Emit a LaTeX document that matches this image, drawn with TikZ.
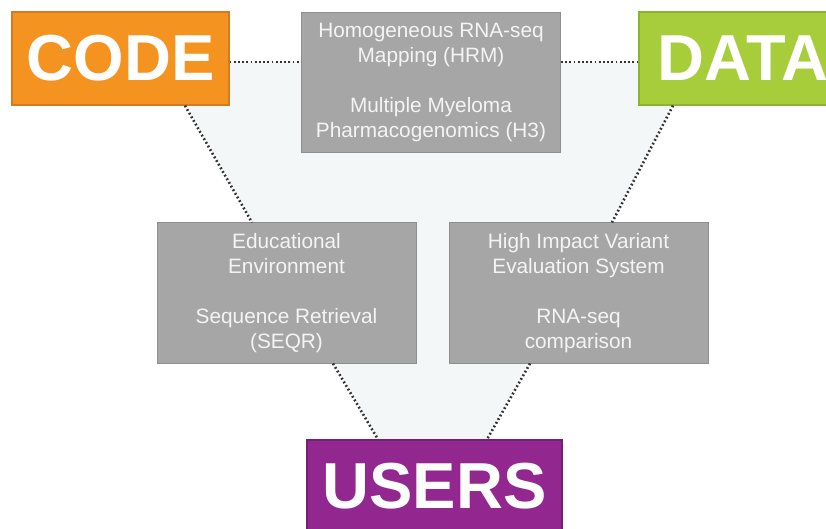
\documentclass[tikz,border=0pt]{standalone}
\usepackage{fontspec}
\setmainfont{Liberation Sans}
\usetikzlibrary{arrows}

\definecolor{codeorange}{HTML}{F4931F}
\definecolor{codeedge}{HTML}{D47A22}
\definecolor{datagreen}{HTML}{A7CD3A}
\definecolor{dataedge}{HTML}{8DB230}
\definecolor{userpurple}{HTML}{922790}
\definecolor{useredge}{HTML}{761F74}
\definecolor{projgray}{HTML}{A6A6A6}
\definecolor{projedge}{HTML}{8E8E8E}
\definecolor{projtext}{HTML}{F4F4F4}
\definecolor{dotcol}{HTML}{333333}
\definecolor{bgtint}{HTML}{F3F7F8}

\begin{document}
\begin{tikzpicture}[
            x = 1pt, % one unit is one pixel
            y = -1pt, % y runs downwards
            semithick % line style
        ]

        \tikzstyle{pillar}=[
            rectangle,
            line width = 1.2pt,
            text = white,
            inner sep = 0pt,
            minimum width = 217pt,
            minimum height = 93pt,
            font = \fontsize{65}{70}\selectfont\bfseries
        ]
        \tikzstyle{project}=[
            rectangle,
            draw = projedge,
            fill = projgray,
            line width = 1pt,
            text = projtext,
            align = center,
            inner sep = 0pt,
            minimum width = 259pt,
            minimum height = 140pt,
            font = \fontsize{20.8}{25}\selectfont
        ]
        \tikzstyle{link}=[
            draw = dotcol,
            line width = 2.6pt,
            dash pattern = on 1.8pt off 2.4pt
        ]

        \useasboundingbox (0,0) rectangle (826,529);
        \clip (0,0) rectangle (826,529);

        % light area between the dotted links
        \fill[bgtint] (229,62) -- (639,62) -- (639,105) -- (673,105) -- (612,222)
            -- (530,362) -- (487,440) -- (378,440) -- (333,362) -- (252,222)
            -- (185,105) -- (229,105) -- cycle;

        \node[pillar, fill = codeorange, draw = codeedge] (code) at (120.5,58.5) {CODE};
        \node[pillar, fill = datagreen, draw = dataedge, minimum width = 208pt] (data) at (743,58.5) {DATA};
        \node[pillar, fill = userpurple, draw = useredge, minimum width = 255pt] (users) at (434.5,486.5) {USERS};

        \node[project] (hrm) at (431,83) {Homogeneous RNA-seq\\Mapping (HRM)\\[25pt]Multiple Myeloma\\Pharmacogenomics (H3)};
        \node[project] (educ) at (286.5,293) {Educational\\Environment\\[25pt]Sequence Retrieval\\(SEQR)};
        \node[project] (hives) at (578.5,293) {High Impact Variant\\Evaluation System\\[25pt]RNA-seq\\comparison};

        \draw[link] ([yshift=-3.5pt]code.east) -- ([yshift=21pt]hrm.west);
        \draw[link] ([yshift=21pt]hrm.east) -- ([yshift=-3.5pt]data.west);
        \draw[link] ([xshift=64.5pt]code.south) -- ([xshift=-34.5pt]educ.north);
        \draw[link] ([xshift=-70pt]data.south) -- ([xshift=33.5pt]hives.north);
        \draw[link] ([xshift=46.5pt]educ.south) -- ([xshift=-56.5pt]users.north);
        \draw[link] ([xshift=-48.5pt]hives.south) -- ([xshift=52.5pt]users.north);

    \end{tikzpicture}
\end{document}
